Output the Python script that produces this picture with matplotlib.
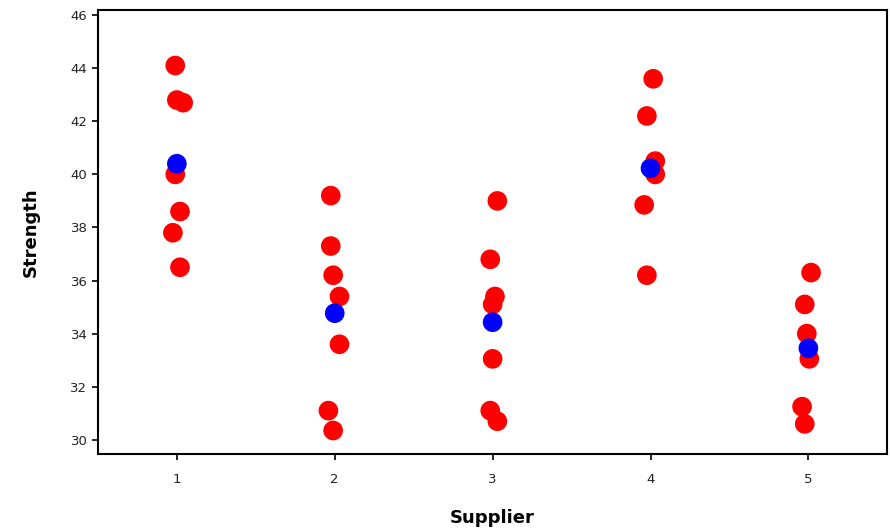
import numpy as np
import matplotlib
matplotlib.use("Agg")
import matplotlib.pyplot as plt

# Strength readings per supplier
suppliers = [1, 2, 3, 4, 5]
strength = [
    [44.1, 42.8, 42.7, 40.0, 38.6, 37.8, 36.5],
    [39.2, 37.3, 36.2, 35.4, 33.6, 31.1, 30.35],
    [39.0, 36.8, 35.4, 35.1, 33.05, 31.1, 30.7],
    [43.6, 42.2, 40.5, 40.0, 38.85, 36.2],
    [36.3, 35.1, 34.0, 33.05, 31.25, 30.6],
]
# horizontal jitter of each point around its supplier
jitter = [
    [-0.01, 0.0, 0.04, -0.01, 0.02, -0.025, 0.02],
    [-0.025, -0.025, -0.01, 0.03, 0.03, -0.04, -0.01],
    [0.03, -0.015, 0.015, 0.0, 0.0, -0.015, 0.03],
    [0.017, -0.023, 0.03, 0.03, -0.04, -0.023],
    [0.017, -0.023, -0.01, 0.006, -0.04, -0.023],
]
means = [40.4, 34.77, 34.43, 40.23, 33.45]

fig = plt.figure(figsize=(8.9, 5.29), dpi=100)
ax = fig.add_axes([0.110, 0.142, 0.887, 0.839])

for s, vals, jit in zip(suppliers, strength, jitter):
    xs = s + np.array(jit)
    ax.scatter(xs, vals, s=200, color="#ff0000", edgecolors="none", zorder=2)
ax.scatter(suppliers, means, s=200, color="#0000ff", edgecolors="none", zorder=3)

ax.set_xlim(0.5, 5.5)
ax.set_ylim(29.47, 46.19)
ax.set_xticks(suppliers)
ax.set_yticks(np.arange(30, 47, 2))
ax.tick_params(axis="both", direction="out", length=4, width=1.2,
               labelsize=9.5, colors="black", labelcolor="#222222")
ax.tick_params(axis="x", pad=10)
for sp in ax.spines.values():
    sp.set_linewidth(1.5)
    sp.set_color("black")

ax.set_xlabel("Supplier", fontsize=13, fontweight="bold", labelpad=16)
ax.set_ylabel("Strength", fontsize=13, fontweight="bold", labelpad=22)

fig.savefig("out.png", dpi=100)
